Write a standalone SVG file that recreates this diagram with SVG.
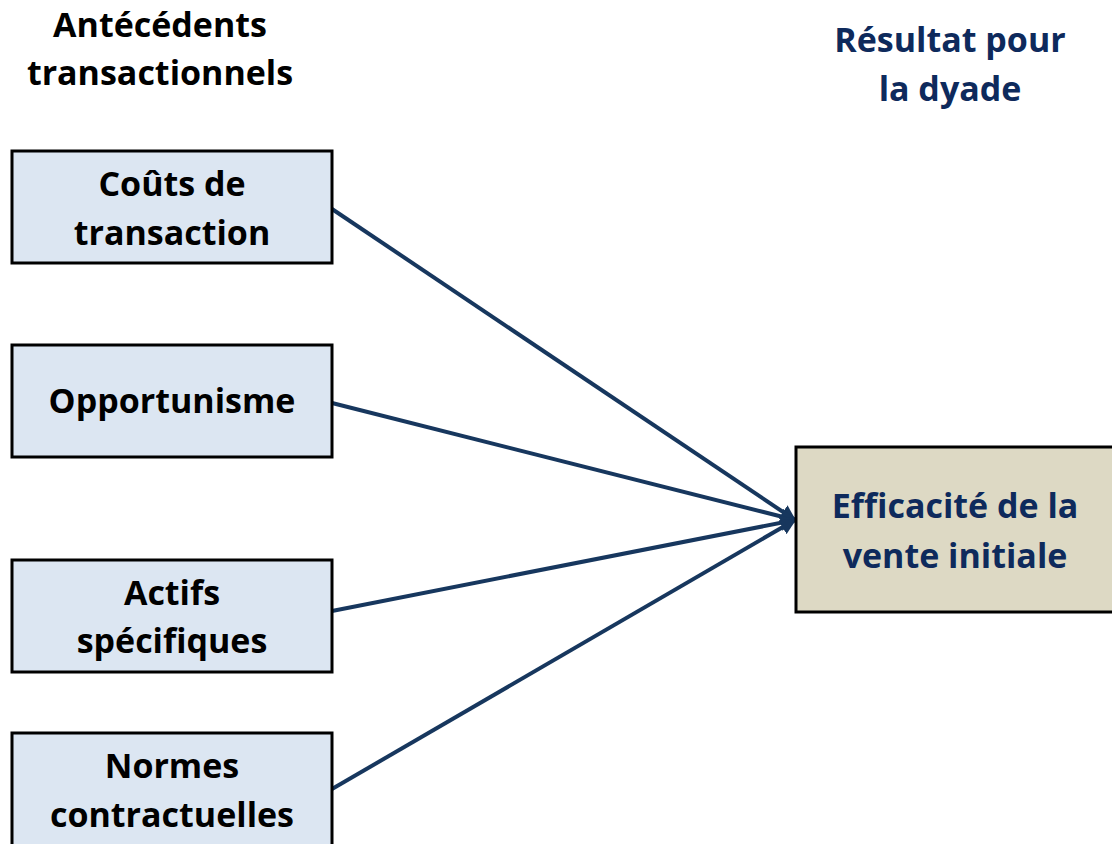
<svg xmlns="http://www.w3.org/2000/svg" width="1112" height="844" viewBox="0 0 1112 844">
<style>
.t{font-family:"Open Sans","Liberation Sans",sans-serif;font-weight:bold;font-size:34px;text-anchor:middle}
.k{fill:#000}
.n{fill:#0E2A5C}
.b{fill:#DCE6F2;stroke:#000;stroke-width:3}
.r{fill:#DDD9C4;stroke:#000;stroke-width:3}
.c{stroke:#17375E;stroke-width:4;fill:none;marker-end:url(#a)}
</style>
<defs>
<marker id="a" viewBox="0 0 10 10" refX="9" refY="5" markerWidth="4" markerHeight="4" orient="auto" markerUnits="strokeWidth">
<path d="M0,0 L10,5 L0,10 z" fill="#17375E"/>
</marker>
</defs>
<g id="header-left">
<text class="t k" x="160" y="37">Antécédents</text>
<text class="t k" x="160" y="85">transactionnels</text>
</g>
<g id="header-right">
<text class="t n" x="950" y="52">Résultat pour</text>
<text class="t n" x="950" y="101">la dyade</text>
</g>
<g id="connectors">
<line class="c" x1="332" y1="209" x2="795" y2="520"/>
<line class="c" x1="332" y1="403" x2="795" y2="520"/>
<line class="c" x1="332" y1="611" x2="795" y2="520"/>
<line class="c" x1="332" y1="789" x2="795" y2="520"/>
</g>
<g id="couts">
<rect class="b" x="12" y="151" width="320" height="112"/>
<text class="t k" x="172" y="196">Coûts de</text>
<text class="t k" x="172" y="245">transaction</text>
</g>
<g id="opportunisme">
<rect class="b" x="12" y="345" width="320" height="112"/>
<text class="t k" x="172" y="413">Opportunisme</text>
</g>
<g id="actifs">
<rect class="b" x="12" y="560" width="320" height="112"/>
<text class="t k" x="172" y="605">Actifs</text>
<text class="t k" x="172" y="653">spécifiques</text>
</g>
<g id="normes">
<rect class="b" x="12" y="733" width="320" height="120"/>
<text class="t k" x="172" y="778">Normes</text>
<text class="t k" x="172" y="827">contractuelles</text>
</g>
<g id="efficacite">
<rect class="r" x="796" y="447" width="320" height="165"/>
<text class="t n" x="955" y="518">Efficacité de la</text>
<text class="t n" x="955" y="568">vente initiale</text>
</g>
</svg>
